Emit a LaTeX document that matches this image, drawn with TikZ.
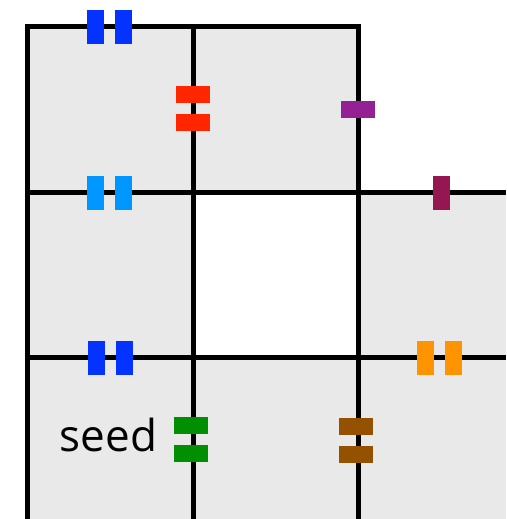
\documentclass[tikz,border=0pt]{standalone}
\usepackage{fontspec}
\newfontfamily\seedfont{Open Sans}
\definecolor{cellgray}{HTML}{E9E9E9}
\definecolor{blueberry}{HTML}{0433FF}
\definecolor{aqua}{HTML}{0096FF}
\definecolor{cherry}{HTML}{FF2600}
\definecolor{plum}{HTML}{942193}
\definecolor{maroon}{HTML}{941751}
\definecolor{tangerine}{HTML}{FF9300}
\definecolor{clover}{HTML}{008F00}
\definecolor{mocha}{HTML}{945200}
\tikzset{
  cell/.style={fill=cellgray,draw=none},
  wall/.style={draw=black,line width=5pt,line join=miter},
  vtick/.style={rectangle,inner sep=0pt,minimum width=17pt,minimum height=34pt,draw=none},
  htick/.style={rectangle,inner sep=0pt,minimum width=34pt,minimum height=17pt,draw=none},
  tag/.style={font=\seedfont\fontsize{44}{52}\selectfont,inner sep=0pt,anchor=base}
}
\begin{document}
\begin{tikzpicture}[x=1pt,y=-1pt]
  \useasboundingbox (0,0) rectangle (506,519);

  % cells
  \fill[cell] (27,26.5) rectangle (358,192.5);
  \fill[cell] (27,192.5) rectangle (193,519);
  \fill[cell] (193,357.5) rectangle (506,519);
  \fill[cell] (358,192.5) rectangle (506,357.5);

  % walls
  \draw[wall] (27,519) -- (27,26.5) -- (358,26.5) -- (358,192.5);
  \draw[wall] (193,26.5) -- (193,519);
  \draw[wall] (358,192.5) -- (358,519);
  \draw[wall] (27,192.5) -- (506,192.5);
  \draw[wall] (27,357.5) -- (506,357.5);

  % ticks
  \node[vtick,fill=blueberry] (topa) at (95.5,27) {};
  \node[vtick,fill=blueberry] (topb) at (123.5,27) {};
  \node[htick,fill=cherry] (reda) at (193,94.5) {};
  \node[htick,fill=cherry] (redb) at (193,122.5) {};
  \node[htick,fill=plum] (plum) at (358,109.5) {};
  \node[vtick,fill=aqua] (mida) at (95.5,192.5) {};
  \node[vtick,fill=aqua] (midb) at (123.5,192.5) {};
  \node[vtick,fill=maroon] (maroon) at (441.5,193) {};
  \node[vtick,fill=blueberry] (lowa) at (96,358) {};
  \node[vtick,fill=blueberry] (lowb) at (124,358) {};
  \node[vtick,fill=tangerine] (orga) at (425.5,358) {};
  \node[vtick,fill=tangerine] (orgb) at (453.5,358) {};
  \node[htick,fill=clover] (grna) at (191,425.5) {};
  \node[htick,fill=clover] (grnb) at (191,453.5) {};
  \node[htick,fill=mocha] (brna) at (356,426.5) {};
  \node[htick,fill=mocha] (brnb) at (356,454.5) {};

  \node[tag] (seed) at (108.5,451) {seed};
\end{tikzpicture}
\end{document}
